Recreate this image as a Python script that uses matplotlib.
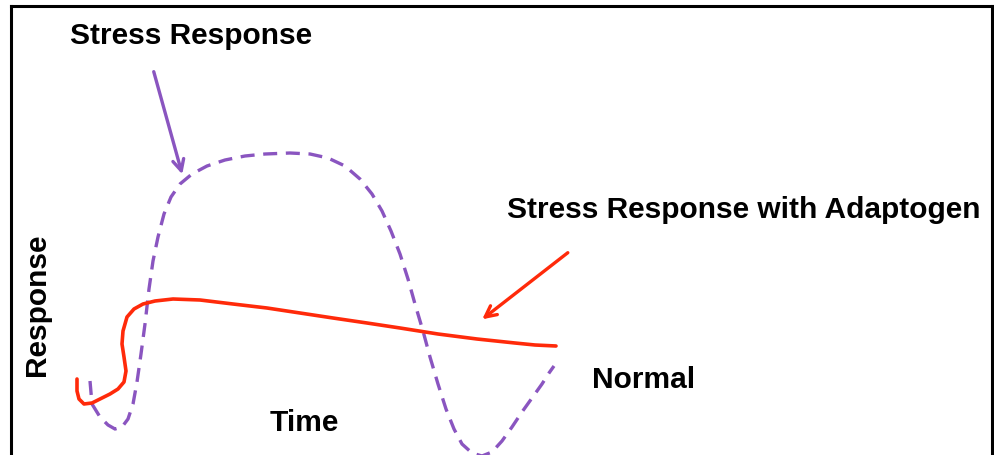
import matplotlib
matplotlib.use("Agg")
import matplotlib.pyplot as plt

# curves, in pixel units (x right, y down)
stress_x = [90, 92, 100, 108, 115, 122, 128, 133, 137, 141, 145, 149, 153, 158, 164, 171, 180, 192, 207, 225,
            245, 265, 290, 310, 328, 345, 360, 372, 382, 391, 400, 408, 415, 423, 430, 438, 446, 454, 462, 472,
            482, 492, 502, 512, 522, 532, 542, 549, 554]
stress_y = [382, 405, 418, 426, 430, 428, 420, 405, 383, 355, 325, 290, 262, 238, 215, 198, 185, 175, 167, 161,
            157, 155, 154, 155, 159, 167, 180, 195, 212, 232, 255, 280, 305, 332, 358, 385, 410, 430, 445, 454,
            457, 453, 442, 428, 413, 399, 385, 374, 367]

adapt_x = [77, 77, 79, 84, 92, 100, 110, 118, 124, 126, 124, 122, 123, 127, 134, 143, 155, 173, 200, 233,
           267, 300, 333, 367, 400, 438, 477, 515, 535, 556]
adapt_y = [380, 392, 400, 405, 404, 400, 395, 390, 383, 372, 358, 345, 332, 318, 310, 305, 302, 300, 301, 305,
           309, 314, 319, 324, 329, 335, 340, 344, 346, 347]

purple = "#8a55c0"
red = "#ff2a0a"

plt.rcParams['font.family'] = ['Liberation Sans', 'DejaVu Sans']

fig = plt.figure(figsize=(9.95, 4.56), dpi=100)

# frame (open at the bottom)
frame = fig.add_axes([11 / 995, -0.1, 981 / 995, 1.1 - 7 / 456])
frame.set_xticks([])
frame.set_yticks([])
frame.spines['bottom'].set_visible(False)
for s in ['left', 'top', 'right']:
    frame.spines[s].set_linewidth(2.2)

ax = fig.add_axes([0, 0, 1, 1], facecolor='none')
ax.set_xlim(0, 995)
ax.set_ylim(456, 0)
ax.axis('off')

ax.plot(stress_x, stress_y, color=purple, lw=2.4, linestyle=(0, (4.2, 2.6)))
ax.plot(adapt_x, adapt_y, color=red, lw=2.6, solid_capstyle='round')

ax.annotate("", xy=(183, 178), xytext=(153, 70),
            arrowprops=dict(arrowstyle="->,head_length=0.8,head_width=0.4", color=purple, lw=2.4))
ax.annotate("", xy=(480, 322), xytext=(570, 252),
            arrowprops=dict(arrowstyle="->,head_length=0.8,head_width=0.4", color=red, lw=2.4))

tk = dict(fontsize=21.5, fontweight='bold', color='black')
ax.text(70, 36, "Stress Response", ha='left', va='center', **tk)
ax.text(507, 210, "Stress Response with Adaptogen", ha='left', va='center', **tk)
ax.text(592, 380, "Normal", ha='left', va='center', **tk)
ax.text(304, 423, "Time", ha='center', va='center', **tk)
ax.text(37, 305, "Response", ha='center', va='center', rotation=90, **tk)

fig.savefig("out.png", dpi=100)
